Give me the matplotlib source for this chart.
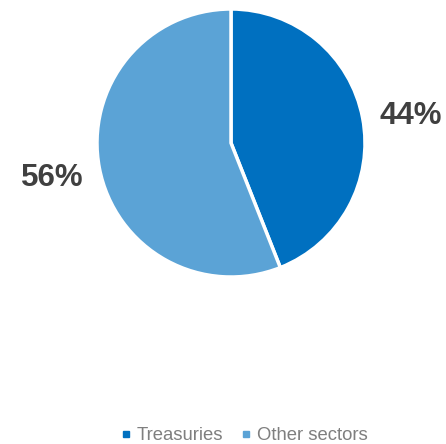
import matplotlib.pyplot as plt
from matplotlib.lines import Line2D

plt.rcParams['font.family'] = ['Liberation Sans', 'DejaVu Sans']

sectors = ['Treasuries', 'Other sectors']
shares = [44, 56]
colors = ['#0070C0', '#5BA3D6']
pct_labels = ['44%', '56%']

fig = plt.figure(figsize=(4.46, 4.44), dpi=100)
ax = fig.add_axes([0, 0, 1, 1])

ax.pie(shares, colors=colors, startangle=90, counterclock=False,
       center=(231, 301), radius=134,
       wedgeprops=dict(edgecolor='white', linewidth=2.5))

# pie() resets the limits, so fix the pixel frame afterwards
ax.set_xlim(0, 446)
ax.set_ylim(0, 444)
ax.set_aspect('equal')
ax.axis('off')

# percentage labels beside each wedge
ax.text(411, 328, pct_labels[0], ha='center', va='center',
        fontsize=22.5, fontweight='bold', color='#404040')
ax.text(52, 266, pct_labels[1], ha='center', va='center',
        fontsize=22.5, fontweight='bold', color='#404040')

handles = [Line2D([], [], marker='s', linestyle='', markersize=5,
                  markerfacecolor=c, markeredgecolor=c) for c in colors]
leg = fig.legend(handles, sectors, loc='center', bbox_to_anchor=(0.543, 0.019),
                 ncol=2, frameon=False, fontsize=13.3, handletextpad=0.1,
                 columnspacing=0.7, handlelength=1.0)
for t in leg.get_texts():
    t.set_color('#7F7F7F')

fig.savefig('out.png', dpi=100)
